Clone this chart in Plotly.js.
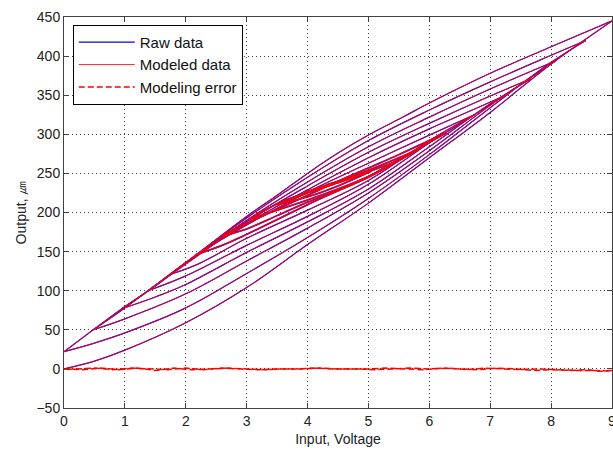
<!DOCTYPE html>
<html><head><meta charset="utf-8">
<script src="https://cdn.plot.ly/plotly-3.0.1.min.js"></script>
<style>html,body{margin:0;padding:0;background:#fff}</style>
</head><body><div id="chart" style="width:613px;height:450px"></div>
<script>
// ---- Hysteresis branches (Input voltage vs output um) ----
// ascending branches
const A0x = [0, 0.5, 1, 2, 3, 4, 5, 6, 7, 8, 9];
const A0y = [0, 10, 24, 59, 104, 159, 212, 270, 328, 390, 445];
const A1x = [0, 0.5, 1, 2, 3, 4, 5, 6, 7, 8, 8.57];
const A1y = [22, 33, 46, 78, 122, 168, 218, 274, 334, 392, 420];
const A2x = [0.48, 1, 2, 3, 4, 5, 6, 7, 8.08];
const A2y = [50, 64, 96, 138, 180, 225, 279, 337, 394];
const A3x = [0.95, 1.5, 2, 3, 4, 5, 6, 7, 7.67];
const A3y = [77, 92, 108, 149, 188, 230, 284, 339, 371];
const A4x = [1.38, 2, 3, 4, 5, 6, 6.6, 7.2];
const A4y = [100, 119, 158, 195, 236, 289, 318, 348];
const A5x = [1.75, 2.2, 3, 4, 5, 6, 6.74];
const A5y = [121, 134, 167, 203, 241, 292, 325];
const A6x = [2.17, 2.6, 3, 4, 5, 5.5, 6.28];
const A6y = [146, 158, 172, 210, 246, 268, 302];
const A7x = [2.6, 3, 3.5, 4, 4.5, 5, 5.85];
const A7y = [170, 179, 196, 213, 228, 245, 282];
const A8x = [3.05, 3.5, 4, 4.5, 5, 5.45];
const A8y = [192, 203, 216, 230, 246, 265];
const A9x = [3.5, 4, 4.5, 5.05];
const A9y = [210, 220, 234, 253];
const A10x = [3.95, 4.3, 4.65];
const A10y = [226, 233, 243];
// descending branches
const D0x = [9, 8, 7, 6, 5.59, 5, 4.5, 4, 3.5, 3, 2.17, 1.38, 0.95, 0.48, 0];
const D0y = [445, 412, 378, 340, 323, 299, 276, 250, 222, 195, 146, 100, 77, 50, 22];
const D1x = [8.57, 8, 7, 6, 5, 4, 3, 2, 1, 0.48];
const D1y = [420, 401, 367, 331, 292, 245, 193, 136, 78, 50];
const D2x = [8.08, 7, 6, 5, 4, 3, 2, 1.5, 0.95];
const D2y = [394, 358, 322, 284, 239, 190, 135, 106, 77];
const D3x = [7.67, 7, 6, 5, 4, 3, 2, 1.38];
const D3y = [371, 349, 314, 277, 234, 188, 134, 100];
const D4x = [7.2, 6.5, 6, 5, 4, 3, 2.3, 1.75];
const D4y = [348, 324, 307, 270, 229, 186, 152, 121];
const D5x = [6.74, 6, 5, 4, 3, 2.17];
const D5y = [325, 299, 263, 226, 184, 146];
const D6x = [6.28, 6, 5.5, 5, 4.5, 4, 3.5, 3, 2.6];
const D6y = [302, 292, 274, 257, 240, 222, 204, 186, 170];
const D7x = [5.85, 5.5, 5, 4.5, 4, 3.5, 3.05];
const D7y = [282, 270, 254, 240, 226, 211, 192];
const D8x = [5.45, 5, 4.5, 4, 3.5];
const D8y = [265, 252, 238, 225, 210];
const D9x = [5.05, 4.5, 3.95];
const D9y = [253, 239, 226];
const D10x = [4.65, 4.3];
const D10y = [243, 235];
// modeling error (two passes of the input sweep)
const errX1 = [0,0.3,0.6,0.9,1.2,1.5,1.8,2.1,2.4,2.7,3.0,3.3,3.6,3.9,4.2,4.5,4.8,5.1,5.4,5.7,6.0,6.3,6.6,6.9,7.2,7.5,7.8,8.1,8.4,8.7,9.0];
const errY1 = [0,-1,1,-1,1,-2,1,-1,0,1,0,-1,0,0,1,0,0,-1,0,1,0,1,-1,1,0,-1,0,-1,-2,-2,-3];
const errX2 = [9.0,8.8,8.6,8.3,8.0,7.7,7.4,7.1,6.8,6.5,6.2,5.9,5.6,5.3,5.0,4.7,4.4,4.1,3.8,3.5,3.2,2.9,2.6,2.3,2.0,1.7,1.4,1.1,0.8,0.5,0.2,0];
const errY2 = [-2,-3,-1,-2,-1,-2,0,1,-1,0,1,-1,0,1,0,0,0,1,0,0,-1,0,1,-1,1,-1,0,1,-1,1,0,-1];

const branches = [
  [A0x,A0y],[D0x,D0y],[A1x,A1y],[D1x,D1y],[A2x,A2y],[D2x,D2y],[A3x,A3y],[D3x,D3y],
  [A4x,A4y],[D4x,D4y],[A5x,A5y],[D5x,D5y],[A6x,A6y],[D6x,D6y],[A7x,A7y],[D7x,D7y],
  [A8x,A8y],[D8x,D8y],[A9x,A9y],[D9x,D9y],[A10x,A10y],[D10x,D10y]
];

const traces = [];
branches.forEach((b, i) => {
  traces.push({x: b[0], y: b[1], type: 'scatter', mode: 'lines', name: 'Raw data',
    legendgroup: 'raw', showlegend: i === 0,
    line: {color: '#0000ff', width: i >= 12 ? 1.6 : 1.2, shape: 'spline', smoothing: 1}});
});
branches.forEach((b, i) => {
  traces.push({x: b[0], y: b[1], type: 'scatter', mode: 'lines', name: 'Modeled data',
    legendgroup: 'model', showlegend: i === 0, opacity: 0.85,
    line: {color: '#ff0000', width: i >= 12 ? 1.6 : 1, shape: 'spline', smoothing: 1}});
});
traces.push({x: errX1, y: errY1, type: 'scatter', mode: 'lines', name: 'Modeling error',
  legendgroup: 'err', showlegend: true,
  line: {color: '#ff0000', width: 1.5, dash: '6px,3px'}});
traces.push({x: errX2, y: errY2, type: 'scatter', mode: 'lines', name: 'Modeling error',
  legendgroup: 'err', showlegend: false,
  line: {color: '#ff0000', width: 1.5, dash: '6px,3px'}});

const axisCommon = {
  showline: true, linecolor: '#404040', linewidth: 1, mirror: 'ticks',
  ticks: 'inside', ticklen: 5, tickcolor: '#404040', ticklabeloverflow: 'allow',
  showgrid: true, gridcolor: '#404040', gridwidth: 1, griddash: '1px,3px',
  zeroline: false, tickfont: {family: 'Liberation Sans, Arial, sans-serif', size: 14, color: '#222'}
};

const layout = {
  width: 613, height: 450,
  margin: {l: 64, r: 1, t: 17, b: 42},
  paper_bgcolor: '#fff', plot_bgcolor: '#fff',
  showlegend: true,
  xaxis: Object.assign({}, axisCommon, {range: [0, 9], tickvals: [0,1,2,3,4,5,6,7,8,9],
    title: {text: 'Input, Voltage', standoff: 6, font: {family: 'Liberation Sans, Arial, sans-serif', size: 14, color: '#222'}}}),
  yaxis: Object.assign({}, axisCommon, {range: [-50, 450], tickvals: [-50,0,50,100,150,200,250,300,350,400,450],
    title: {text: 'Output, ㎛', standoff: 6, font: {family: 'Liberation Sans, Arial, sans-serif', size: 14, color: '#222'}}}),
  legend: {x: 0.016, y: 0.98, xanchor: 'left', yanchor: 'top', bgcolor: '#fff',
    bordercolor: '#000', borderwidth: 1, tracegroupgap: 0, itemwidth: 56,
    font: {family: 'Liberation Sans, Arial, sans-serif', size: 15, color: '#111'}}
};

Plotly.newPlot('chart', traces, layout, {displayModeBar: false, staticPlot: true});
</script></body></html>
